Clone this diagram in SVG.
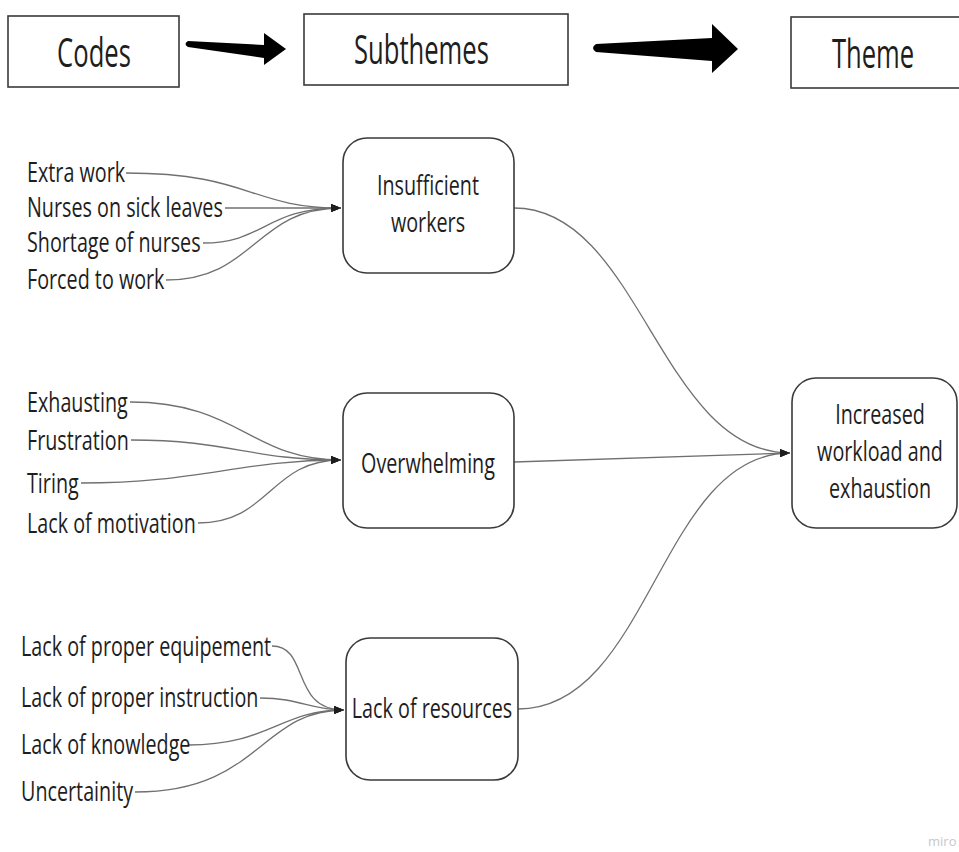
<svg xmlns="http://www.w3.org/2000/svg" width="959" height="852" viewBox="0 0 959 852">
<defs>
<style>
text{font-family:"Open Sans","Noto Sans","Liberation Sans",sans-serif;fill:#1e1e1e;}
.lbl{font-size:28px;}
.hdr{font-size:40px;}
.mid{text-anchor:middle;}
.hbox{fill:#fff;stroke:#3a3a3a;stroke-width:1.6;}
.node{fill:#fff;stroke:#3a3a3a;stroke-width:1.6;}
.conn{fill:none;stroke:#707070;stroke-width:1.3;}
.bigarrow{fill:#000;}
</style>
<marker id="ah" viewBox="0 0 10 8" refX="10" refY="4" markerWidth="10" markerHeight="8" markerUnits="userSpaceOnUse" orient="auto">
<path d="M0,0 L10,4 L0,8 Z" fill="#1e1e1e"/>
</marker>
</defs>
<rect width="959" height="852" fill="#fff"/>

<g id="header">
<g id="hdr-codes"><rect class="hbox" x="8" y="16" width="171" height="71"/><text class="hdr mid" transform="translate(94,67) scale(0.64,1)">Codes</text></g>
<path class="bigarrow" d="M188,41 Q183,44 188,47 L264,58 L264,65 L286,49 L264,33 L264,45 Z"/>
<g id="hdr-subthemes"><rect class="hbox" x="304" y="14" width="264" height="71"/><text class="hdr" transform="translate(354,64) scale(0.64,1)">Subthemes</text></g>
<path class="bigarrow" d="M596,44 Q590,48 596,52 L712,61 L712,73 L738,49 L712,24 L712,38 Z"/>
<g id="hdr-theme"><rect class="hbox" x="791" y="17" width="172" height="71"/><text class="hdr mid" transform="translate(873,68) scale(0.64,1)">Theme</text></g>
</g>

<g id="connectors">
<path class="conn" d="M126,173 C250,173 250,208 341,208" marker-end="url(#ah)"/>
<path class="conn" d="M225,208 L341,208" marker-end="url(#ah)"/>
<path class="conn" d="M203,243 C265,243 265,208 341,208" marker-end="url(#ah)"/>
<path class="conn" d="M166,280 C255,280 255,208 341,208" marker-end="url(#ah)"/>

<path class="conn" d="M130,402 C240,402 250,460 341,460" marker-end="url(#ah)"/>
<path class="conn" d="M131,440 C230,440 250,460 341,460" marker-end="url(#ah)"/>
<path class="conn" d="M81,483 C200,483 240,460 341,460" marker-end="url(#ah)"/>
<path class="conn" d="M198,523 C270,523 270,460 341,460" marker-end="url(#ah)"/>

<path class="conn" d="M272,646 C310,646 290,710 344,710" marker-end="url(#ah)"/>
<path class="conn" d="M260,698 C300,698 310,710 344,710" marker-end="url(#ah)"/>
<path class="conn" d="M188,745 C270,745 280,710 344,710" marker-end="url(#ah)"/>
<path class="conn" d="M135,792 C260,792 260,710 344,710" marker-end="url(#ah)"/>

<path class="conn" d="M514,208 C640,208 660,453 790,453" marker-end="url(#ah)"/>
<path class="conn" d="M514,462 L790,453" marker-end="url(#ah)"/>
<path class="conn" d="M518,709 C650,709 660,453 790,453" marker-end="url(#ah)"/>
</g>

<g id="codes-1">
<text class="lbl" transform="translate(27,182) scale(0.705,1)">Extra work</text>
<text class="lbl" transform="translate(27,217) scale(0.705,1)">Nurses on sick leaves</text>
<text class="lbl" transform="translate(27,252) scale(0.705,1)">Shortage of nurses</text>
<text class="lbl" transform="translate(27,289) scale(0.705,1)">Forced to work</text>
</g>
<g id="codes-2">
<text class="lbl" transform="translate(27,412) scale(0.705,1)">Exhausting</text>
<text class="lbl" transform="translate(27,450) scale(0.705,1)">Frustration</text>
<text class="lbl" transform="translate(27,493) scale(0.705,1)">Tiring</text>
<text class="lbl" transform="translate(27,533) scale(0.705,1)">Lack of motivation</text>
</g>
<g id="codes-3">
<text class="lbl" transform="translate(21,656) scale(0.705,1)">Lack of proper equipement</text>
<text class="lbl" transform="translate(21,707) scale(0.705,1)">Lack of proper instruction</text>
<text class="lbl" transform="translate(21,754) scale(0.705,1)">Lack of knowledge</text>
<text class="lbl" transform="translate(21,801) scale(0.705,1)">Uncertainity</text>
</g>

<g id="insufficient-workers">
<rect class="node" x="343" y="138" width="171" height="135" rx="24"/>
<text class="lbl mid" transform="translate(428,195) scale(0.705,1)">Insufficient</text>
<text class="lbl mid" transform="translate(428,232) scale(0.705,1)">workers</text>
</g>
<g id="overwhelming">
<rect class="node" x="343" y="393" width="171" height="135" rx="24"/>
<text class="lbl mid" transform="translate(428,473) scale(0.705,1)">Overwhelming</text>
</g>
<g id="lack-of-resources">
<rect class="node" x="346" y="638" width="172" height="142" rx="24"/>
<text class="lbl mid" transform="translate(432,718) scale(0.705,1)">Lack of resources</text>
</g>
<g id="increased-workload">
<rect class="node" x="792" y="378" width="165" height="150" rx="24"/>
<text class="lbl mid" transform="translate(880,424) scale(0.705,1)">Increased</text>
<text class="lbl mid" transform="translate(880,461) scale(0.705,1)">workload and</text>
<text class="lbl mid" transform="translate(880,498) scale(0.705,1)">exhaustion</text>
</g>
<text x="928" y="846" style="font-size:13px;fill:#c8c8c8;">miro</text>
</svg>
